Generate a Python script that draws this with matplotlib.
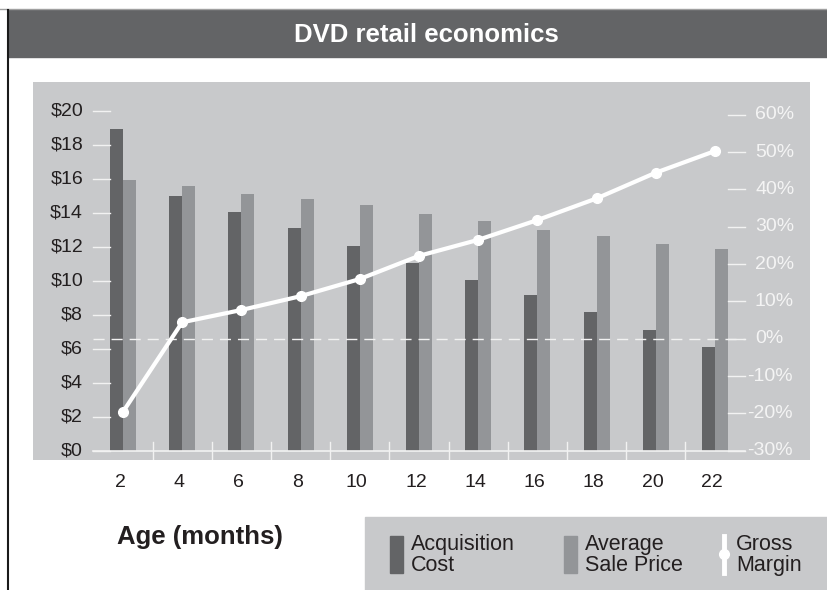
import numpy as np
import matplotlib.pyplot as plt
import matplotlib.transforms as mtransforms
from matplotlib.patches import Rectangle
from matplotlib.lines import Line2D

# data
months = [2, 4, 6, 8, 10, 12, 14, 16, 18, 20, 22]
acquisition_cost = [18.9, 15.0, 14.05, 13.1, 12.05, 11.07, 10.05, 9.17, 8.17, 7.1, 6.1]
avg_sale_price = [15.9, 15.6, 15.1, 14.8, 14.46, 13.93, 13.54, 12.99, 12.64, 12.17, 11.87]
gross_margin = [-19.6, 4.4, 7.7, 11.4, 16.0, 22.2, 26.5, 31.8, 37.6, 44.5, 50.3]
dollar_ticks = list(range(0, 21, 2))
pct_ticks = list(range(-30, 61, 10))

DARK = '#636466'
LIGHT = '#939598'
BG = '#c8c9cb'
INK = '#231f20'
W, H = 827, 590

plt.rcParams['font.family'] = ['Liberation Sans', 'DejaVu Sans']

fig = plt.figure(figsize=(W / 100, H / 100), dpi=100)
fig.patch.set_facecolor('white')

# plot area: pixels x 33..810, y 82..460
ax = fig.add_axes([33 / W, (H - 460) / H, (810 - 33) / W, (460 - 82) / H])
ax.set_facecolor(BG)
for s in ax.spines.values():
    s.set_visible(False)
ax.set_xlim(-1.04, 25.21)
ax.set_ylim(-0.53, 21.69)

bw = 0.44
x = np.array(months)
ax.bar(x - bw / 2, acquisition_cost, width=bw, color=DARK, zorder=2)
ax.bar(x + bw / 2, avg_sale_price, width=bw, color=LIGHT, zorder=2)

ax.set_xticks(x - 0.1)
ax.set_xticklabels([str(m) for m in months], fontsize=14, color=INK)
ax.tick_params(axis='x', length=0, pad=10)
ax.set_yticks([])

bl = mtransforms.blended_transform_factory(ax.transAxes, ax.transData)
lx0, lx1 = (93 - 33) / 777, (110 - 33) / 777
rx0, rx1 = (728 - 33) / 777, (745 - 33) / 777
for v in dollar_ticks:
    ax.plot([lx0, lx1], [v, v], color='#f2f2f2', lw=1, transform=bl, zorder=3)
    ax.text((83 - 33) / 777, v, '$%d' % v, transform=bl, ha='right', va='center',
            fontsize=14, color=INK)

# x axis baseline and between-group ticks
ax.plot([lx0, rx1], [0, 0], color='#f2f2f2', lw=1.2, transform=bl, zorder=3)
for m in months[:-1]:
    ax.axvline(m + 1, ymin=0, ymax=18 / 378, color='#f2f2f2', lw=1, zorder=3)

ax2 = ax.twinx()
ax2.set_ylim(-32.5, 68.8)
ax2.set_yticks([])
for s in ax2.spines.values():
    s.set_visible(False)
bl2 = mtransforms.blended_transform_factory(ax2.transAxes, ax2.transData)
for v in pct_ticks:
    ax2.plot([rx0, rx1], [v, v], color='#f2f2f2', lw=1, transform=bl2)
    xt = (747 - 33) / 777 if v < 0 else (755 - 33) / 777
    ax2.text(xt, v, '%d%%' % v, transform=bl2, ha='left', va='center',
             fontsize=14, color='#f4f4f4')
ax2.plot([lx0, rx1], [0, 0], color='#f2f2f2', lw=1, dashes=(8, 5), transform=bl2)
ax2.plot(months, gross_margin, color='white', lw=3, marker='o', markersize=7,
         solid_capstyle='round', zorder=5)

# title bar and frame
fig.add_artist(Rectangle((8 / W, (H - 57) / H), 1 - 8 / W, 47 / H,
                         transform=fig.transFigure, color=DARK, zorder=0))
fig.add_artist(Line2D([0, 1], [(H - 8.5) / H] * 2, transform=fig.transFigure,
                      color='#a0a0a0', lw=1))
fig.add_artist(Line2D([8 / W] * 2, [0, (H - 10) / H], transform=fig.transFigure,
                      color='#1a1a1a', lw=1.5))
fig.text(426 / W, (H - 35) / H, 'DVD retail economics', ha='center', va='center',
         fontsize=18.5, fontweight='bold', color='white')

fig.text(117 / W, (H - 537) / H, 'Age (months)', ha='left', va='center',
         fontsize=18.5, fontweight='bold', color=INK)

# legend panel
fig.add_artist(Rectangle((365 / W, 0), (W - 365) / W, (H - 517) / H,
                         transform=fig.transFigure, color=BG, zorder=0))
fig.add_artist(Rectangle((390 / W, (H - 573) / H), 13 / W, 37 / H,
                         transform=fig.transFigure, color=DARK))
fig.add_artist(Rectangle((564 / W, (H - 573) / H), 13 / W, 37 / H,
                         transform=fig.transFigure, color=LIGHT))
fig.add_artist(Line2D([724 / W] * 2, [(H - 573) / H, (H - 536) / H],
                      transform=fig.transFigure, color='white', lw=3.5))
fig.add_artist(Line2D([724 / W], [(H - 554) / H], transform=fig.transFigure,
                      color='white', marker='o', markersize=7, lw=0))
for tx, label in [(411, 'Acquisition\nCost'), (585, 'Average\nSale Price'),
                  (736, 'Gross\nMargin')]:
    fig.text(tx / W, (H - 555) / H, label, ha='left', va='center', fontsize=15.5,
             color=INK, linespacing=1.02)

fig.savefig('out.png', dpi=100)
